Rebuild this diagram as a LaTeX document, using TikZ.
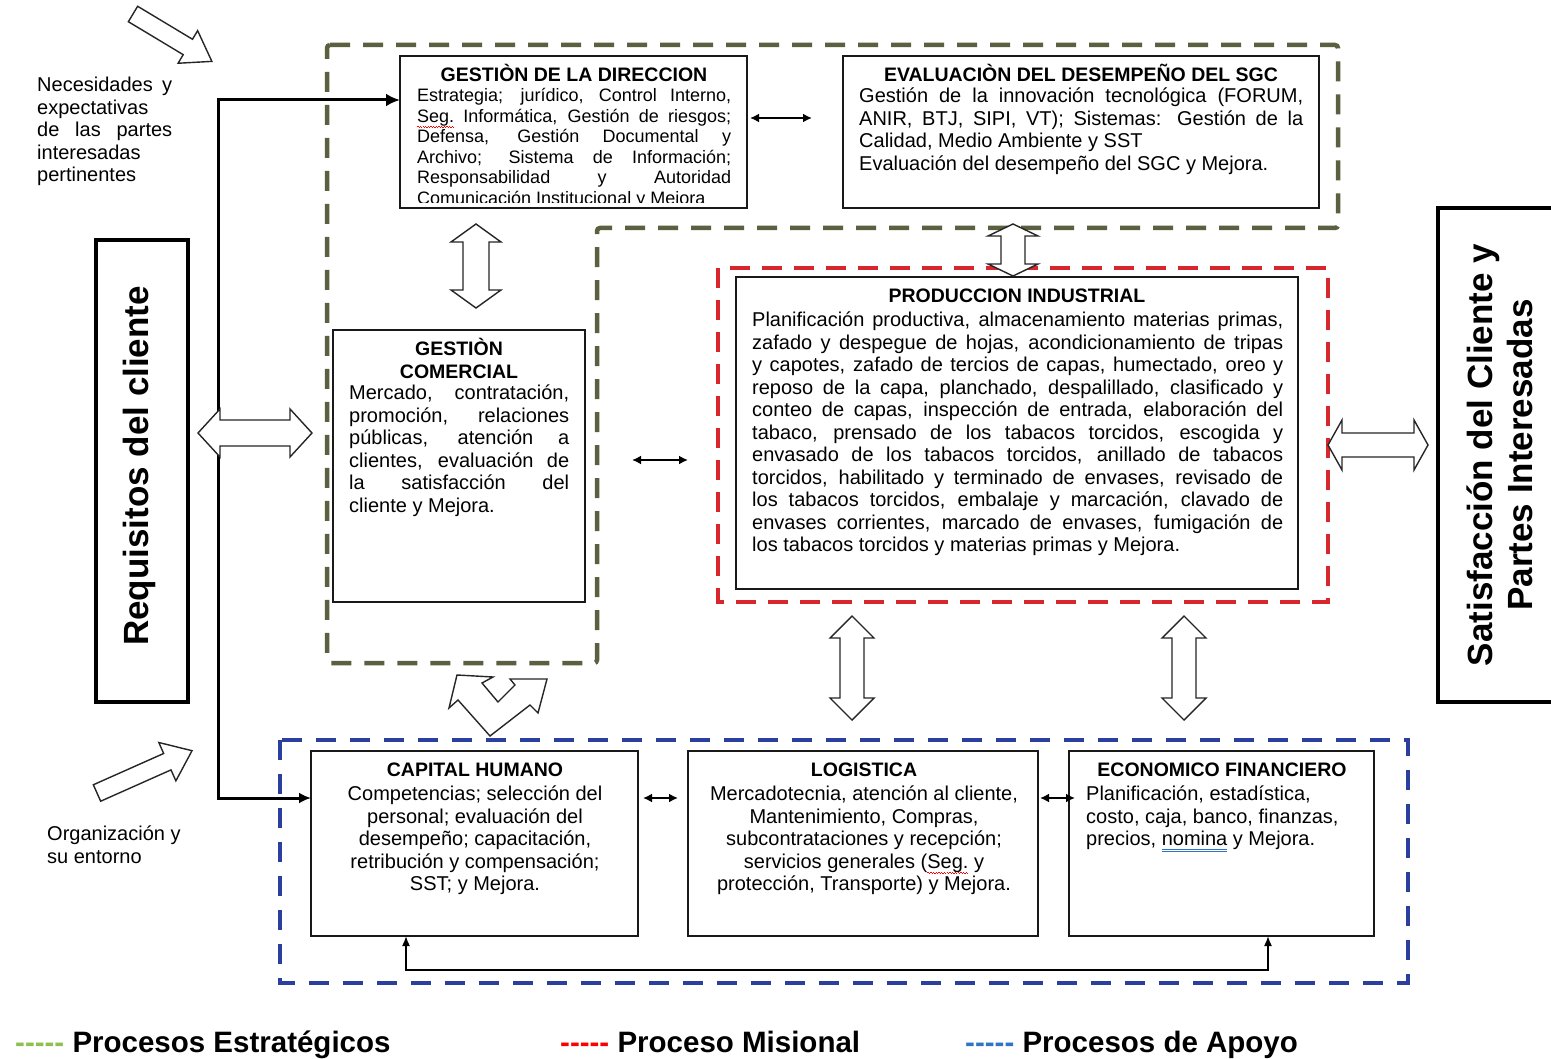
\documentclass[tikz,border=0pt]{standalone}
\usepackage{fontspec}
\setmainfont{Liberation Sans}
\usetikzlibrary{arrows.meta,calc}
\definecolor{stratC}{HTML}{5A6040}
\definecolor{misC}{HTML}{D8262C}
\definecolor{apoC}{HTML}{2B3F9E}
\definecolor{legG}{HTML}{8DC04F}
\definecolor{legR}{HTML}{FF0000}
\definecolor{legB}{HTML}{2E75C6}
\newcommand\jl[2]{\makebox[#1][s]{#2}}
\newcommand\bodyf{\fontsize{20pt}{22.5pt}\selectfont}
\newcommand\dirf{\fontsize{18pt}{20.6pt}\selectfont}
\newcommand\titf{\fontsize{19.5pt}{23pt}\selectfont\bfseries}
\newcommand\redwave[1]{\setbox0\hbox{#1}\rlap{#1}\textcolor{red}{\hbox to \wd0{\xleaders\hbox{\rule[-4.5pt]{1.3pt}{0.9pt}\rule[-5.6pt]{1.3pt}{0.9pt}}\hfill}}}
\newcommand\bluedbl[1]{\setbox0\hbox{#1}\rlap{#1}\textcolor{legB}{\rlap{\rule[-3.5pt]{\wd0}{0.9pt}}\rule[-6pt]{\wd0}{0.9pt}}}
\newcommand\DArrow[7]{\begin{scope}[shift={(#1,#2)},rotate=#3]
 \draw[blockarrow] (-#4,0) -- (-#4+#7,#6) -- (-#4+#7,#5) -- (#4-#7,#5) -- (#4-#7,#6) -- (#4,0) -- (#4-#7,-#6) -- (#4-#7,-#5) -- (-#4+#7,-#5) -- (-#4+#7,-#6) -- cycle;
\end{scope}}
\newcommand\SArrow[7]{\begin{scope}[shift={(#1,#2)},rotate=#3]
 \draw[blockarrow] (0,-#5) -- (#4-#7,-#5) -- (#4-#7,-#6) -- (#4,0) -- (#4-#7,#6) -- (#4-#7,#5) -- (0,#5) -- cycle;
\end{scope}}
\tikzset{
 blockarrow/.style={draw=black!85, line width=1.4pt, fill=white, line join=miter},
 box/.style={draw=black!90, line width=1.5pt, fill=white, inner sep=0pt, outer sep=0pt, anchor=north west},
 heavybox/.style={draw=black, line width=4pt, inner sep=0pt, outer sep=0pt, anchor=north west},
 strat/.style={draw=stratC, line width=4.5pt, dash pattern=on 20pt off 13pt, rounded corners=3pt},
 mis/.style={draw=misC, line width=4.5pt, dash pattern=on 20pt off 12pt},
 apo/.style={draw=apoC, line width=4pt, dash pattern=on 20pt off 14pt},
 ttl/.style={font=\titf, inner sep=0pt, anchor=center},
 body/.style={font=\bodyf, inner sep=0pt, align=left, anchor=north west},
 cbody/.style={font=\bodyf, inner sep=0pt, align=center, anchor=north},
 thinconn/.style={draw=black, line width=1.8pt, {Latex[length=9pt,width=9pt]}-{Latex[length=9pt,width=9pt]}},
 legend/.style={font=\fontsize{29.5pt}{33pt}\selectfont\bfseries, inner sep=0pt, anchor=base west},
}
\begin{document}
\begin{tikzpicture}[x=1pt,y=-1pt]
\clip (0,0) rectangle (1551,1059);
\fill[white] (0,0) rectangle (1551,1059);

% process boundaries
\draw[strat] (327,45) -- (1338,45) -- (1338,228) -- (597,228) -- (597,663) -- (327,663) -- cycle;
\draw[mis] (718,268) rectangle (1328,602);
\draw[apo] (280,740) rectangle (1408,983);

% side boxes
\node[heavybox, minimum width=92pt, minimum height=462pt] (req) at (96,240) {};
\node[rotate=90, font=\fontsize{35pt}{40pt}\selectfont\bfseries, inner sep=0pt] (reqT) at (139,466) {Requisitos del cliente};
\node[heavybox, minimum width=130pt, minimum height=494pt] (sat) at (1438,208) {};
\node[rotate=90, font=\fontsize{35pt}{40pt}\selectfont\bfseries, inner sep=0pt, align=center] (satT) at (1500,455) {Satisfacción del Cliente y\\Partes Interesadas};

% left texts
\node[body] (nec) at (37,77) {\jl{135pt}{Necesidades y}\\expectativas\\\jl{135pt}{de las partes}\\interesadas\\pertinentes};
\node[body] (org) at (47,826) {Organización y\\su entorno};

% main connector
\coordinate (jt) at (218,100);
\coordinate (jb) at (218,798);

% boxes
\node[box, minimum width=347pt, minimum height=152pt] (dir) at (400,56) {};
\node[box, minimum width=476pt, minimum height=152pt] (eval) at (843,56) {};
\node[box, minimum width=252pt, minimum height=272pt] (com) at (333,330) {};
\node[box, minimum width=562pt, minimum height=312pt] (prod) at (736,277) {};
\node[box, minimum width=327pt, minimum height=185pt] (cap) at (311,751) {};
\node[box, minimum width=350pt, minimum height=185pt] (log) at (688,751) {};
\node[box, minimum width=305pt, minimum height=185pt] (eco) at (1069,751) {};

\draw[line width=3pt, {Latex[length=14pt,width=13pt]}-{Latex[length=12pt,width=11pt]}] (dir.west |- jt) -- (jt) -- (jb) -- (cap.west |- jb);

% box texts
\node[ttl] (dirH) at (574,73) {GESTIÒN DE LA DIRECCION};
\begin{scope}
\clip (401,57) rectangle (746,203);
\node[body, font=\dirf] (dirB) at (417,88) {\jl{314pt}{Estrategia; jurídico, Control Interno,}\\
\jl{314pt}{\redwave{Seg.} Informática, Gestión de riesgos;}\\
\jl{314pt}{Defensa, Gestión Documental y}\\
\jl{314pt}{Archivo; Sistema de Información;}\\
\jl{314pt}{Responsabilidad y Autoridad}\\
Comunicación Institucional y Mejora};
\end{scope}

\node[ttl] (evalH) at (1081,73) {EVALUACIÒN DEL DESEMPEÑO DEL SGC};
\node[body] (evalB) at (859,88) {\jl{444pt}{Gestión de la innovación tecnológica (FORUM,}\\
\jl{444pt}{ANIR, BTJ, SIPI, VT); Sistemas: Gestión de la}\\
Calidad, Medio Ambiente y SST\\
Evaluación del desempeño del SGC y Mejora.};

\node[ttl, align=center, font=\fontsize{19.5pt}{23pt}\selectfont\bfseries] (comH) at (459,358) {GESTIÒN\\COMERCIAL};
\node[body] (comB) at (349,385) {\jl{220pt}{Mercado, contratación,}\\
\jl{220pt}{promoción, relaciones}\\
\jl{220pt}{públicas, atención a}\\
\jl{220pt}{clientes, evaluación de}\\
\jl{220pt}{la satisfacción del}\\
cliente y Mejora.};

\node[ttl] (prodH) at (1017,296) {PRODUCCION INDUSTRIAL};
\node[body] (prodB) at (752,312) {\jl{531pt}{Planificación productiva, almacenamiento materias primas,}\\
\jl{531pt}{zafado y despegue de hojas, acondicionamiento de tripas}\\
\jl{531pt}{y capotes, zafado de tercios de capas, humectado, oreo y}\\
\jl{531pt}{reposo de la capa, planchado, despalillado, clasificado y}\\
\jl{531pt}{conteo de capas, inspección de entrada, elaboración del}\\
\jl{531pt}{tabaco, prensado de los tabacos torcidos, escogida y}\\
\jl{531pt}{envasado de los tabacos torcidos, anillado de tabacos}\\
\jl{531pt}{torcidos, habilitado y terminado de envases, revisado de}\\
\jl{531pt}{los tabacos torcidos, embalaje y marcación, clavado de}\\
\jl{531pt}{envases corrientes, marcado de envases, fumigación de}\\
los tabacos torcidos y materias primas y Mejora.};

\node[ttl] (capH) at (475,770) {CAPITAL HUMANO};
\node[cbody] (capB) at (475,786) {Competencias; selección del\\personal; evaluación del\\desempeño; capacitación,\\retribución y compensación;\\SST; y Mejora.};

\node[ttl] (logH) at (864,770) {LOGISTICA};
\node[cbody] (logB) at (864,786) {Mercadotecnia, atención al cliente,\\Mantenimiento, Compras,\\subcontrataciones y recepción;\\servicios generales (\redwave{Seg.} y\\protección, Transporte) y Mejora.};

\node[ttl] (ecoH) at (1222,770) {ECONOMICO FINANCIERO};
\node[body] (ecoB) at (1086,786) {Planificación, estadística,\\costo, caja, banco, finanzas,\\precios, \bluedbl{nomina} y Mejora.};

% small double arrows
\coordinate (a1) at (750,118); \coordinate (a2) at (812,118);
\draw[thinconn] (a1) -- (a2);
\coordinate (b1) at (632,460); \coordinate (b2) at (688,460);
\draw[thinconn] (b1) -- (b2);
\coordinate (c1) at (643,798); \coordinate (c2) at (678,798);
\draw[thinconn] (c1) -- (c2);
\coordinate (d1) at (1040,798); \coordinate (d2) at (1075,798);
\draw[thinconn] (d1) -- (d2);

% bottom loop connector
\coordinate (bl) at (406,970); \coordinate (br) at (1268,970);
\draw[line width=1.6pt, {Latex[length=10pt,width=8pt]}-{Latex[length=10pt,width=8pt]}] (cap.south -| bl) -- (bl) -- (br) -- (eco.south -| br);

% block arrows
\SArrow{133}{14}{-31}{92}{9}{19}{28}
\SArrow{97}{793}{24}{104}{9}{21}{27}
\DArrow{255}{433}{0}{57}{13}{24}{22}
\DArrow{476}{266}{90}{42}{13}{25}{18}
\DArrow{1013}{250}{90}{26}{12}{25}{12}
\DArrow{1378}{445}{0}{50}{12}{25}{14}
\DArrow{852}{668}{90}{52}{12}{22}{22}
\DArrow{1184}{668}{90}{52}{12}{22}{22}
\draw[blockarrow] (457,675) -- (493,677) -- (482,683) -- (498,702) -- (515,685) -- (510,679) -- (547,679) -- (538,713) -- (530,705) -- (490,736) -- (458,700) -- (449,708) -- cycle;

% legend
\node[legend] (l1) at (15,1052) {\textcolor{legG}{-{}-{}-{}-{}-} Procesos Estratégicos};
\node[legend] (l2) at (560,1052) {\textcolor{legR}{-{}-{}-{}-{}-} Proceso Misional};
\node[legend] (l3) at (965,1052) {\textcolor{legB}{-{}-{}-{}-{}-} Procesos de Apoyo};
\end{tikzpicture}
\end{document}
